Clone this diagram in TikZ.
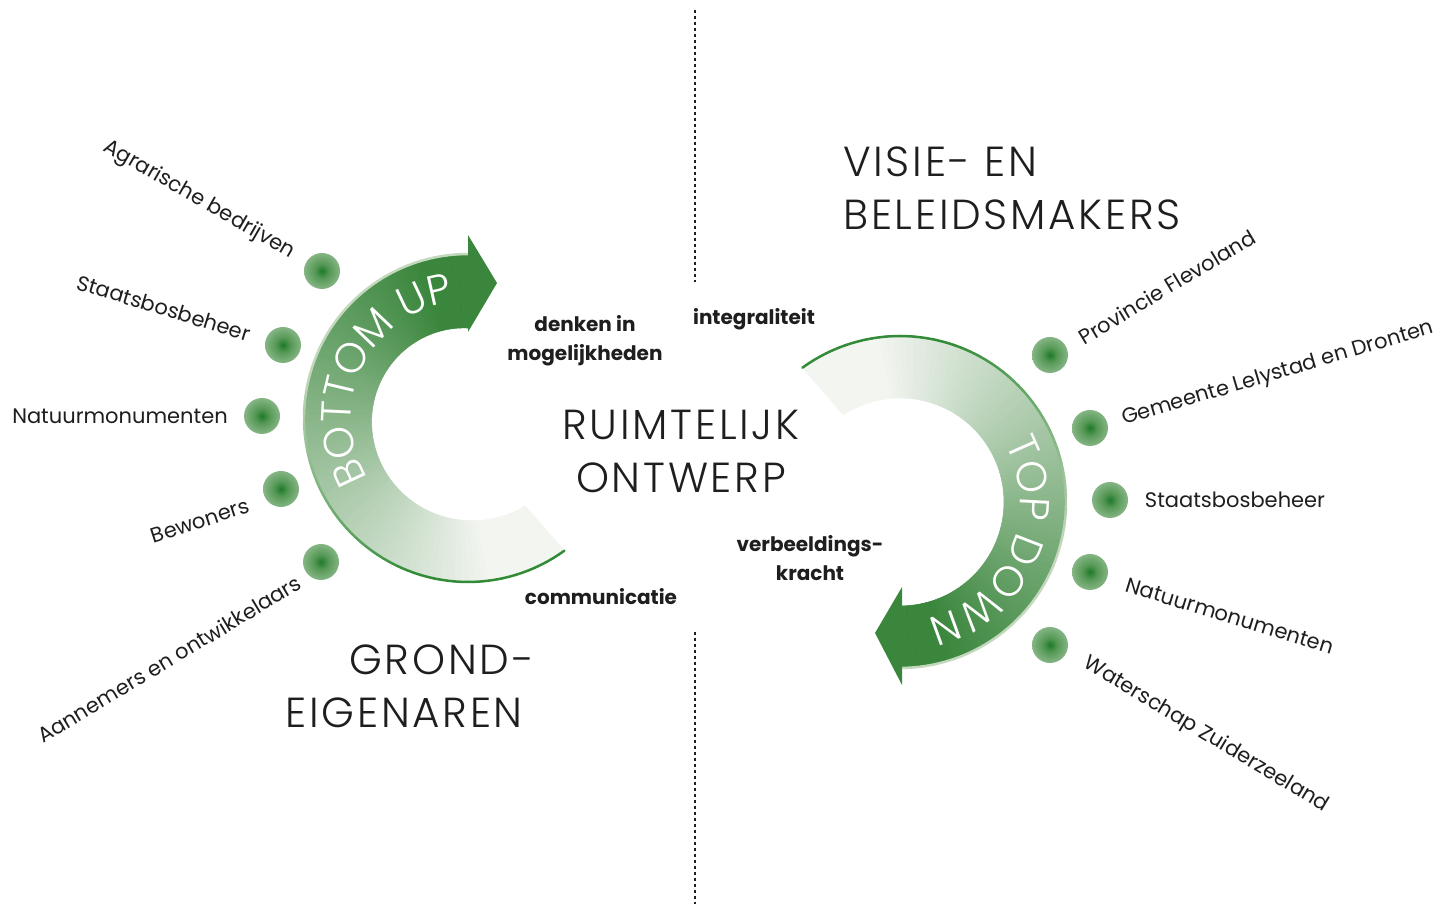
\documentclass[tikz,border=0pt]{standalone}
\usepackage{fontspec}
\setmainfont{Poppins}
\newfontfamily\lightfont{Poppins Light}
\newfontfamily\headfont{Poppins Light}[LetterSpace=6.5]
\usetikzlibrary{decorations.text}

\definecolor{bandgreen}{RGB}{58,134,60}
\definecolor{bandpale}{RGB}{243,245,241}
\definecolor{rimgreen}{RGB}{50,140,55}
\definecolor{rimpale}{RGB}{196,216,190}
\definecolor{dotcore}{RGB}{30,122,42}
\definecolor{dotmid}{RGB}{85,152,85}
\definecolor{inkblack}{RGB}{30,30,30}

\pgfdeclareradialshading{dotglow}{\pgfpoint{0bp}{0bp}}{%
  color(0bp)=(dotcore); color(10bp)=(dotmid); color(26bp)=(dotmid!70!white);
  color(40bp)=(dotmid!28!white); color(50bp)=(white)}

\newcommand\bandfont{\lightfont\fontsize{42}{46}\selectfont}

\tikzset{
  blob/.style={circle, inner sep=0pt, minimum size=36pt, shading=dotglow},
  party/.style={font=\fontsize{21}{25}\selectfont, text=inkblack, inner sep=0pt},
  heading/.style={font=\headfont\fontsize{42}{53}\selectfont, text=inkblack, inner sep=0pt},
  keyword/.style={font=\bfseries\fontsize{20}{29}\selectfont, text=inkblack, align=center, inner sep=0pt},
  divider/.style={line width=1.6pt, dash pattern=on 3pt off 3pt, inkblack}
}

\begin{document}
\begin{tikzpicture}[x=1pt,y=1pt]
\useasboundingbox (0,0) rectangle (1447,904);

% dividing line
\draw[divider] (695,894) -- (695,622);
\draw[divider] (695,272) -- (695,0);

% bottom up arrow
\begin{scope}[shift={(468,486)}]
  \foreach \i in {0,...,89}{
    \pgfmathsetmacro\ta{\i/90}
    \pgfmathsetmacro\tb{(\i+1)/90}
    \pgfmathsetmacro\oa{-54-216*\ta}
    \pgfmathsetmacro\ob{-54-216*\tb}
    \pgfmathsetmacro\ia{-57-213*\ta}
    \pgfmathsetmacro\ib{-57-213*\tb}
    \pgfmathsetmacro\ra{105-15*\ta}
    \pgfmathsetmacro\rb{105-15*\tb}
    \pgfmathsetmacro\mix{max(0,min(100,(\ta-0.12)*125))}
    \filldraw[fill=bandgreen!\mix!bandpale, draw=bandgreen!\mix!bandpale, line width=0.6pt]
      (\oa:163) -- (\ob:163) -- (\ib:\rb) -- (\ia:\ra) -- cycle;
  }
  \foreach \i in {0,...,89}{
    \pgfmathsetmacro\ta{\i/90}
    \pgfmathsetmacro\tb{(\i+1)/90}
    \pgfmathsetmacro\oa{-54-216*\ta}
    \pgfmathsetmacro\ob{-54-216*\tb}
    \pgfmathsetmacro\lmix{max(0,min(100,100-250*(\ta-0.25)))}
    \draw[rimgreen!\lmix!rimpale, line width=2.5pt, line cap=round] (\oa:164) -- (\ob:164);
  }
  \fill[bandgreen] (0,183) -- (29,135) -- (0,86) -- cycle;
  \path[decorate, decoration={text along path, text align=center, text color=white,
    text={|\bandfont|BOTTOM UP}}] (216:117) arc[start angle=216, end angle=92, radius=117];
\end{scope}

% top down arrow
\begin{scope}[shift={(900,402)}]
  \foreach \i in {0,...,89}{
    \pgfmathsetmacro\ta{\i/90}
    \pgfmathsetmacro\tb{(\i+1)/90}
    \pgfmathsetmacro\oa{126-216*\ta}
    \pgfmathsetmacro\ob{126-216*\tb}
    \pgfmathsetmacro\ia{123-213*\ta}
    \pgfmathsetmacro\ib{123-213*\tb}
    \pgfmathsetmacro\mix{max(0,min(100,(\ta-0.12)*125))}
    \filldraw[fill=bandgreen!\mix!bandpale, draw=bandgreen!\mix!bandpale, line width=0.6pt]
      (\oa:165) -- (\ob:165) -- (\ib:104) -- (\ia:104) -- cycle;
  }
  \foreach \i in {0,...,89}{
    \pgfmathsetmacro\ta{\i/90}
    \pgfmathsetmacro\tb{(\i+1)/90}
    \pgfmathsetmacro\oa{126-216*\ta}
    \pgfmathsetmacro\ob{126-216*\tb}
    \pgfmathsetmacro\lmix{max(0,min(100,100-250*(\ta-0.25)))}
    \draw[rimgreen!\lmix!rimpale, line width=2.5pt, line cap=round] (\oa:166) -- (\ob:166);
  }
  \fill[bandgreen] (2,-85) -- (-25,-131) -- (2,-183) -- cycle;
  \path[decorate, decoration={text along path, text align=center, text color=white,
    text={|\bandfont|TOP DOWN}}] (38:120) arc[start angle=38, end angle=-86, radius=120];
\end{scope}

% headings
\node[heading, anchor=north west, align=left] (visie) at (843,757) {VISIE- EN\\BELEIDSMAKERS};
\node[heading, anchor=north east, align=right] (grond) at (523,259) {GROND-\hspace*{-11pt}\\EIGENAREN};
\node[heading, anchor=north, align=center] (ontwerp) at (681,494) {RUIMTELIJK\\ONTWERP};

% key words
\node[keyword] (denken) at (585,563) {denken in\\mogelijkheden};
\node[keyword] (integraal) at (754,585) {integraliteit};
\node[keyword] (verbeelding) at (810,346) {verbeeldings-\\kracht};
\node[keyword] (communicatie) at (601,307) {communicatie};

% grondeigenaren
\node[blob] (dotL1) at (322,633) {};
\node[blob] (dotL2) at (283,559) {};
\node[blob] (dotL3) at (262,488) {};
\node[blob] (dotL4) at (281,415) {};
\node[blob] (dotL5) at (321,342) {};
\node[party, rotate=-30] (agrarisch) at (199,704) {Agrarische bedrijven};
\node[party, rotate=-17] (sbbL) at (164,596) {Staatsbosbeheer};
\node[party] (nmL) at (120,488) {Natuurmonumenten};
\node[party, rotate=18] (bewoners) at (200,383) {Bewoners};
\node[party, rotate=31] (aannemers) at (169,245) {Aannemers en ontwikkelaars};

% visie- en beleidsmakers
\node[blob] (dotR1) at (1050,549) {};
\node[blob] (dotR2) at (1090,476) {};
\node[blob] (dotR3) at (1110,404) {};
\node[blob] (dotR4) at (1090,332) {};
\node[blob] (dotR5) at (1050,259) {};
\node[party, rotate=31] (provincie) at (1167,617) {Provincie Flevoland};
\node[party, rotate=16.5] (gemeente) at (1278,530) {Gemeente Lelystad en Dronten};
\node[party] (sbbR) at (1235,404) {Staatsbosbeheer};
\node[party, rotate=-17] (nmR) at (1230,288) {Natuurmonumenten};
\node[party, rotate=-31] (waterschap) at (1206,169) {Waterschap Zuiderzeeland};
\end{tikzpicture}
\end{document}
